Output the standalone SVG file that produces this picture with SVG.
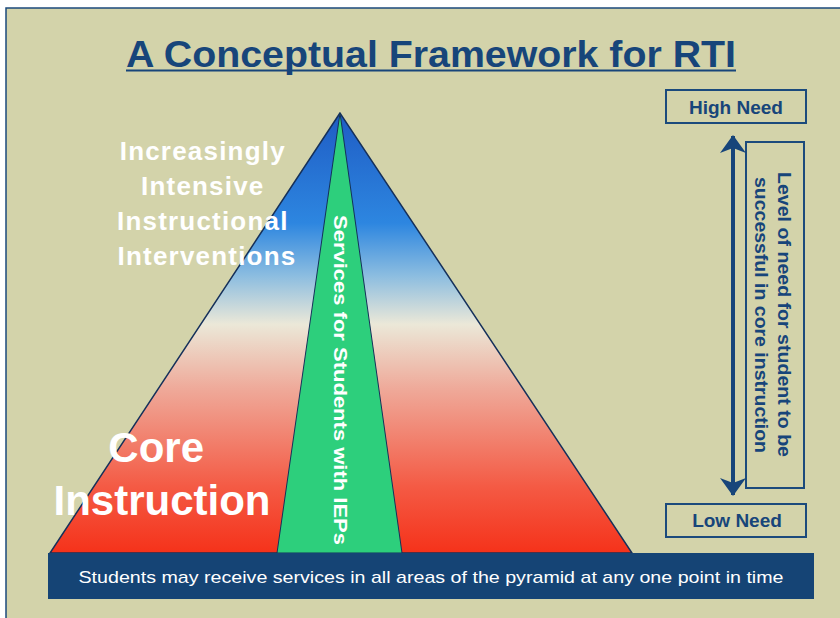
<svg xmlns="http://www.w3.org/2000/svg" width="840" height="618" viewBox="0 0 840 618">
<defs>
<style>
.t{font-family:"Liberation Sans",Arial,sans-serif;font-weight:bold}
.w{fill:#ffffff}
.n{fill:#17457a}
.box{fill:none;stroke:#1b4a7c;stroke-width:2}
</style>
<linearGradient id="pg" x1="0" y1="113" x2="0" y2="553" gradientUnits="userSpaceOnUse">
<stop offset="0" stop-color="#1f5cc4"/>
<stop offset="0.25" stop-color="#2d86e0"/>
<stop offset="0.37" stop-color="#8cbde0"/>
<stop offset="0.48" stop-color="#ebe8d8"/>
<stop offset="0.63" stop-color="#efa898"/>
<stop offset="0.85" stop-color="#f45a44"/>
<stop offset="1" stop-color="#f5321a"/>
</linearGradient>
<marker id="ah" viewBox="0 0 18 26" refX="17" refY="13" markerWidth="18" markerHeight="26" markerUnits="userSpaceOnUse" orient="auto-start-reverse">
<path d="M0,0 L18,13 L0,26 L5,13 Z" fill="#17457a"/>
</marker>
</defs>
<rect width="840" height="618" fill="#ffffff"/>
<rect x="6" y="8" width="834" height="610" fill="#d3d3aa"/>
<path d="M6,618 L6,8 L840,8" fill="none" stroke="#1b4a7c" stroke-width="1.5"/>

<g id="title">
<text class="t n" x="431" y="67" font-size="37" text-anchor="middle" textLength="610" lengthAdjust="spacingAndGlyphs">A Conceptual Framework for RTI</text>
<rect x="126" y="69.5" width="610" height="2" fill="#17457a"/>
</g>

<g id="pyramid">
<polygon points="340,113 50,553 632,553" fill="url(#pg)" stroke="#15305a" stroke-width="1.5"/>
</g>
<g id="iep-wedge">
<polygon points="340,113 277,553 402,553" fill="#2dcf7c" stroke="#15305a" stroke-width="1"/>
<text class="t w" font-size="18" transform="translate(334,215) rotate(90)" textLength="330" lengthAdjust="spacingAndGlyphs">Services for Students with IEPs</text>
</g>

<g id="interventions-label">
<text class="t w" font-size="26" text-anchor="middle" letter-spacing="1.2">
<tspan x="207" y="160">Increasingly</tspan>
<tspan x="207" y="195">Intensive</tspan>
<tspan x="207" y="230">Instructional</tspan>
<tspan x="207" y="265">Interventions</tspan>
</text>
</g>

<g id="core-label">
<text class="t w" font-size="42" text-anchor="middle">
<tspan x="162" y="462">Core</tspan>
<tspan x="162" y="515">Instruction</tspan>
</text>
</g>

<g id="banner">
<rect x="48" y="553" width="766" height="46" fill="#154475"/>
<text class="t w" style="font-weight:normal" font-size="17" x="431" y="583" text-anchor="middle" textLength="705" lengthAdjust="spacingAndGlyphs">Students may receive services in all areas of the pyramid at any one point in time</text>
</g>

<g id="high-need">
<rect class="box" x="666" y="90" width="140" height="33"/>
<text class="t n" font-size="19" x="736" y="114" text-anchor="middle">High Need</text>
</g>
<g id="low-need">
<rect class="box" x="666" y="504" width="140" height="33"/>
<text class="t n" font-size="19" x="737" y="527" text-anchor="middle">Low Need</text>
</g>
<g id="level-label">
<rect class="box" x="746" y="142" width="58" height="346"/>
<text class="t n" font-size="18" transform="rotate(90)">
<tspan x="172" y="-778" textLength="285" lengthAdjust="spacingAndGlyphs">Level of need for student to be</tspan>
<tspan x="177" y="-755" textLength="276" lengthAdjust="spacingAndGlyphs">successful in core instruction</tspan>
</text>
</g>

<g id="connectors">
<line x1="733" y1="136" x2="733" y2="495" stroke="#17457a" stroke-width="4" marker-start="url(#ah)" marker-end="url(#ah)"/>
</g>
</svg>
